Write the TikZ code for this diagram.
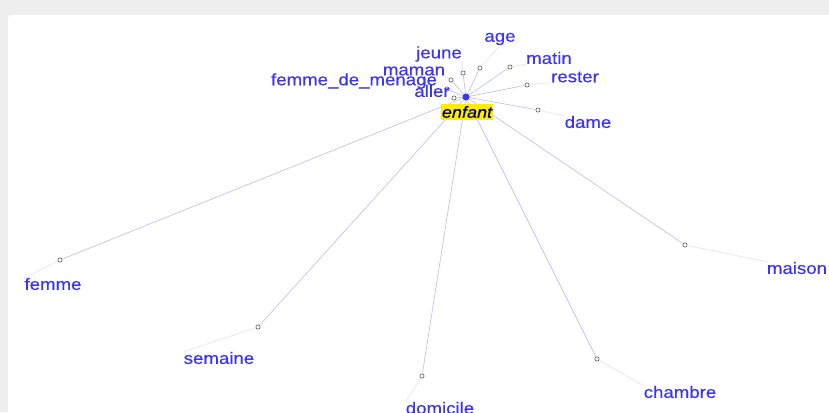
\documentclass[tikz,border=0pt]{standalone}
\usepackage{fontspec}
\setmainfont[FakeStretch=1.13,FakeBold=0.4]{Liberation Sans}
\definecolor{lbl}{RGB}{60,52,245}
\definecolor{edge}{RGB}{196,196,238}
\definecolor{faint}{RGB}{230,230,244}
\definecolor{frame}{RGB}{238,238,238}
\definecolor{hl}{RGB}{255,236,0}
\begin{document}
\begin{tikzpicture}[x=1pt,y=-1pt,
  word/.style={text=lbl,font=\fontsize{16.5}{17}\selectfont,inner sep=0pt,anchor=center},
  pt/.style={circle,draw=gray!80!black,fill=white,line width=0.7pt,minimum size=4.2pt,inner sep=0pt},
  link/.style={draw=edge,line width=0.7pt},
  tail/.style={draw=faint,line width=0.7pt}]
\useasboundingbox (0,0) rectangle (829,412);
\fill[frame] (0,0) rectangle (829,412);
\fill[white,rounded corners=3pt] (8,15) rectangle (840,420);
% center
\coordinate (c) at (466,97);
% word points
\node[pt] (pAge) at (480,68) {};
\node[pt] (pJeune) at (463,73) {};
\node[pt] (pMatin) at (510,67) {};
\node[pt] (pRester) at (527,85) {};
\node[pt] (pMaman) at (451,80) {};
\node[pt] (pFdm) at (447,89) {};
\node[pt] (pAller) at (454,98) {};
\node[pt] (pDame) at (538,110) {};
\node[pt] (pFemme) at (60,260) {};
\node[pt] (pSemaine) at (258,327) {};
\node[pt] (pDomicile) at (422,376) {};
\node[pt] (pChambre) at (597,359) {};
\node[pt] (pMaison) at (685,245) {};
% labels
\node[word] (age) at (500,39) {age};
\node[word] (jeune) at (439,54) {jeune};
\node[word] (matin) at (549,58) {matin};
\node[word] (rester) at (575,77) {rester};
\node[word] (maman) at (414,71) {maman};
\node[word] (fdm) at (354,81) {femme\_de\_menage};
\node[word] (aller) at (432,91) {aller};
\node[word] (dame) at (588,122) {dame};
\node[word] (femme) at (53,284) {femme};
\node[word] (semaine) at (219,358) {semaine};
\node[word] (domicile) at (440,408) {domicile};
\node[word] (chambre) at (680,392) {chambre};
\node[word] (maison) at (797,268) {maison};
% tails
\foreach \p/\l/\a in {pFemme/femme/north west, pSemaine/semaine/north west, pDomicile/domicile/north west, pChambre/chambre/north west, pMaison/maison/north west, pDame/dame/north west, pRester/rester/south west, pMatin/matin/south west, pAge/age/south, pJeune/jeune/south east, pMaman/maman/south east}
  \draw[tail] (\p) -- (\l.\a);
% links
\foreach \p in {pAge,pJeune,pMatin,pRester,pMaman,pFdm,pAller,pDame,pFemme,pSemaine,pDomicile,pChambre,pMaison}
  \draw[link] (c) -- (\p);
\node[fill=lbl,circle,minimum size=7pt,inner sep=0pt] (cdot) at (c) {};
\node[fill=hl,text=black!65!blue,font=\fontsize{16}{17}\selectfont\itshape,inner sep=1pt,minimum height=16pt] (enfant) at (467,112) {enfant};
\end{tikzpicture}
\end{document}
